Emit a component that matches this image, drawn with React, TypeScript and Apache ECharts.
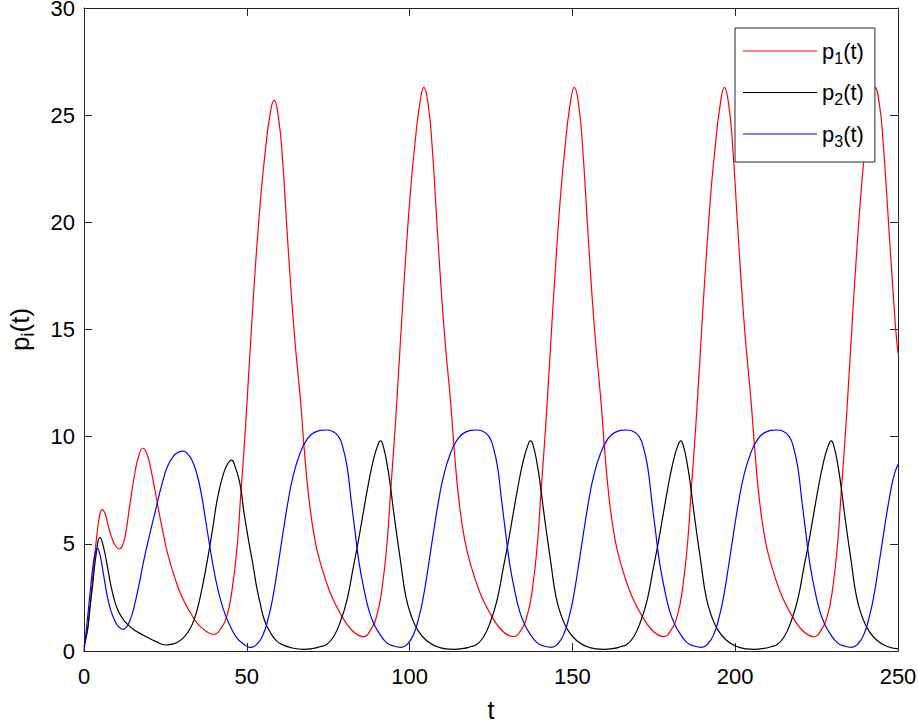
import React, { useEffect, useRef } from "react";
import * as echarts from "echarts";

const FONT = "'Liberation Sans', Arial, Helvetica, sans-serif";

const xTicks = { min: 0, max: 250, interval: 50 };
const yTicks = { min: 0, max: 30, interval: 5 };

const seriesNames = ["p1(t)", "p2(t)", "p3(t)"];
const legendLabels: Record<string, string> = {
  "p1(t)": "{a|p}{s|1}{a|(t)}",
  "p2(t)": "{a|p}{s|2}{a|(t)}",
  "p3(t)": "{a|p}{s|3}{a|(t)}",
};

// p1(t) — red
const p1: [number, number][] = [
  [0, 0.7], [0.8, 0.8], [1.5, 1.5], [2.1, 2.4], [3.0, 4.0], [4.1, 5.6], [4.9, 6.4], [5.6, 6.6], [6.5, 6.4], [7.5, 5.8], [8.5, 5.3], [9.7, 4.9], [10.9, 4.76], [12.0, 5.0], [12.8, 5.5], [13.6, 6.3], [14.3, 7.05], [15.5, 8.2], [16.8, 9.1], [18.1, 9.46], [19.3, 9.2], [20.5, 8.5], [21.8, 7.5], [23.0, 6.5], [24.3, 5.5], [25.6, 4.6], [27.6, 3.55], [30.0, 2.55], [32.8, 1.76], [35.0, 1.25], [37.5, 0.92], [39.9, 0.78], [42.0, 1.05],
  [44.0, 1.7], [45.6, 3.0], [47.1, 5.0], [48.1, 7.2], [49.1, 9.3], [50.1, 11.7], [51.4, 15.0], [52.9, 18.5], [54.4, 21.4], [55.6, 23.2], [57.0, 24.9], [58.4, 25.7], [59.7, 24.9], [60.9, 23.1], [62.7, 18.8], [64.6, 14.8], [66.6, 11.5], [67.7, 9.3], [69.1, 7.1], [70.9, 5.2], [73.0, 3.9], [75.4, 2.8], [77.6, 2.07], [79.9, 1.45], [82.2, 0.98], [84.2, 0.74], [85.8, 0.67],
  [87.9, 0.95], [90.0, 1.7], [91.6, 3.0], [93.1, 5.1], [94.1, 7.3], [95.1, 9.4], [96.1, 11.7], [97.4, 15.0], [98.9, 18.6], [100.4, 21.7], [101.6, 23.6], [103.0, 25.4], [104.4, 26.3], [105.7, 25.5], [106.9, 23.6], [108.7, 19.2], [110.6, 15.0], [112.6, 11.6], [113.7, 9.4], [115.1, 7.1], [116.9, 5.2], [119.0, 3.9], [121.4, 2.8], [123.6, 2.07], [125.9, 1.45], [128.2, 0.98], [130.2, 0.74], [131.8, 0.67],
  [134.1, 0.95], [136.2, 1.7], [137.8, 3.0], [139.3, 5.1], [140.3, 7.3], [141.3, 9.4], [142.3, 11.7], [143.6, 15.0], [145.1, 18.6], [146.6, 21.7], [147.8, 23.6], [149.2, 25.4], [150.6, 26.3], [151.9, 25.5], [153.1, 23.6], [154.9, 19.2], [156.8, 15.0], [158.8, 11.6], [159.9, 9.4], [161.3, 7.1], [163.1, 5.2], [165.2, 3.9], [167.6, 2.8], [169.8, 2.07], [172.1, 1.45], [174.4, 0.98], [176.4, 0.74], [178.0, 0.67],
  [180.2, 0.95], [182.3, 1.7], [183.9, 3.0], [185.4, 5.1], [186.4, 7.3], [187.4, 9.4], [188.4, 11.7], [189.7, 15.0], [191.2, 18.6], [192.7, 21.7], [193.9, 23.6], [195.3, 25.4], [196.7, 26.3], [198.0, 25.5], [199.2, 23.6], [201.0, 19.2], [202.9, 15.0], [204.9, 11.6], [206.0, 9.4], [207.4, 7.1], [209.2, 5.2], [211.3, 3.9], [213.7, 2.8], [215.9, 2.07], [218.2, 1.45], [220.5, 0.98], [222.5, 0.74], [224.1, 0.67],
  [226.3, 0.95], [228.4, 1.7], [230.0, 3.0], [231.5, 5.1], [232.5, 7.3], [233.5, 9.4], [234.5, 11.7], [235.8, 15.0], [237.3, 18.6], [238.8, 21.7], [240.0, 23.6], [241.4, 25.4], [242.9, 26.3], [244.3, 25.5], [245.5, 23.6], [247.3, 19.5], [249.2, 15.2], [250, 13.9],
];

// p2(t) — black
const p2: [number, number][] = [
  [0, 0.2], [1.0, 0.9], [1.8, 2.0], [2.6, 3.0], [3.8, 4.6], [4.9, 5.3], [5.9, 4.9], [7.2, 3.93], [8.2, 3.1], [9.2, 2.45], [10.3, 1.95], [11.5, 1.6], [13.0, 1.3], [15.4, 0.98], [17.5, 0.8], [19.4, 0.64], [22.0, 0.45], [25.1, 0.28], [27.5, 0.33], [29.7, 0.51], [31.8, 0.85], [33.8, 1.45], [35.8, 2.6], [37.9, 4.25], [39.5, 5.7], [40.9, 7.05], [42.5, 8.1], [44.0, 8.7], [45.35, 8.91], [46.4, 8.6], [47.9, 7.8], [49.1, 6.5], [50.5, 5.2], [52.0, 3.93], [53.0, 3.0], [54.0, 2.3], [55.5, 1.4], [57.5, 0.8], [59.3, 0.45], [61.2, 0.28], [64.0, 0.14], [67.4, 0.08], [70.5, 0.12], [72.5, 0.2], [74.5, 0.3],
  [76.6, 0.65], [78.8, 1.4], [80.8, 2.4], [82.7, 3.9], [84.1, 5.0], [85.6, 6.3], [87.1, 7.6], [88.7, 8.8], [90.0, 9.5], [91.1, 9.8], [92.0, 9.5], [93.1, 8.7], [94.0, 7.8], [95.1, 6.5], [95.9, 5.6], [97.3, 4.1], [98.9, 2.5], [100.6, 1.6], [102.6, 0.95], [105.1, 0.5], [108.1, 0.22], [111.1, 0.1], [113.6, 0.08], [116.6, 0.12],
  [118.7, 0.2], [120.6, 0.3], [122.7, 0.65], [124.9, 1.4], [126.9, 2.4], [128.8, 3.9], [130.2, 5.0], [131.7, 6.3], [133.2, 7.6], [134.8, 8.8], [136.1, 9.5], [137.2, 9.8], [138.1, 9.5], [139.2, 8.7], [140.1, 7.8], [141.2, 6.5], [142.0, 5.6], [143.4, 4.1], [145.0, 2.5], [146.7, 1.6], [148.7, 0.95], [151.2, 0.5], [154.2, 0.22], [157.2, 0.1], [159.7, 0.08], [162.7, 0.12],
  [164.8, 0.2], [166.7, 0.3], [168.8, 0.65], [171.0, 1.4], [173.0, 2.4], [174.9, 3.9], [176.3, 5.0], [177.8, 6.3], [179.3, 7.6], [180.9, 8.8], [182.2, 9.5], [183.3, 9.8], [184.2, 9.5], [185.3, 8.7], [186.2, 7.8], [187.3, 6.5], [188.1, 5.6], [189.5, 4.1], [191.1, 2.5], [192.8, 1.6], [194.8, 0.95], [197.3, 0.5], [200.3, 0.22], [203.3, 0.1], [205.8, 0.08], [208.8, 0.12],
  [211.0, 0.2], [212.9, 0.3], [215.0, 0.65], [217.2, 1.4], [219.2, 2.4], [221.1, 3.9], [222.5, 5.0], [224.0, 6.3], [225.5, 7.6], [227.1, 8.8], [228.4, 9.5], [229.5, 9.8], [230.4, 9.5], [231.5, 8.7], [232.4, 7.8], [233.5, 6.5], [234.3, 5.6], [235.7, 4.1], [237.3, 2.5], [239.0, 1.6], [241.0, 0.95], [243.5, 0.5], [246.5, 0.22], [250, 0.1],
];

// p3(t) — blue
const p3: [number, number][] = [
  [0, 0], [0.8, 1.13], [1.4, 2.0], [2.05, 3.0], [2.8, 4.0], [3.4, 4.55], [4.1, 4.79], [4.9, 4.5], [6.1, 3.47], [7.1, 2.6], [8.2, 1.91], [9.5, 1.4], [10.8, 1.1], [12.0, 1.01], [13.2, 1.15], [14.3, 1.5], [15.4, 2.07], [16.9, 3.1], [18.4, 4.25], [20.2, 5.45], [22.0, 6.58], [23.8, 7.7], [25.6, 8.6], [27.5, 9.1], [29.0, 9.28], [30.4, 9.33], [31.5, 9.25], [33.0, 8.95], [34.5, 8.35], [36.0, 7.35], [37.5, 5.95], [39.0, 4.55], [40.5, 3.3], [42.0, 2.35], [43.5, 1.65], [45.0, 1.13], [47.0, 0.6], [49.1, 0.32], [51.0, 0.17],
  [53.3, 0.35], [55.1, 0.8], [56.7, 1.6], [58.0, 2.5], [59.6, 4.0], [61.1, 5.5], [62.7, 7.0], [64.2, 8.15], [66.3, 9.2], [68.4, 9.85], [70.8, 10.2], [74.3, 10.31], [76.3, 10.25], [78.2, 10.0], [79.5, 9.5], [80.8, 8.6], [82.0, 7.1], [83.3, 5.5], [84.5, 4.1], [86.1, 2.8], [87.6, 1.85], [89.1, 1.25], [90.8, 0.8], [93.0, 0.38], [95.3, 0.22], [97.4, 0.17],
  [99.5, 0.35], [101.3, 0.8], [102.9, 1.6], [104.2, 2.5], [105.8, 4.0], [107.3, 5.5], [108.9, 7.0], [110.4, 8.15], [112.5, 9.2], [114.6, 9.85], [117.0, 10.2], [120.5, 10.31], [122.5, 10.25], [124.4, 10.0], [125.7, 9.5], [127.0, 8.6], [128.2, 7.1], [129.5, 5.5], [130.7, 4.1], [132.3, 2.8], [133.8, 1.85], [135.3, 1.25], [137.0, 0.8], [139.2, 0.38], [141.5, 0.22], [143.6, 0.17],
  [145.6, 0.35], [147.4, 0.8], [149.0, 1.6], [150.3, 2.5], [151.9, 4.0], [153.4, 5.5], [155.0, 7.0], [156.5, 8.15], [158.6, 9.2], [160.7, 9.85], [163.1, 10.2], [166.6, 10.31], [168.6, 10.25], [170.5, 10.0], [171.8, 9.5], [173.1, 8.6], [174.3, 7.1], [175.6, 5.5], [176.8, 4.1], [178.4, 2.8], [179.9, 1.85], [181.4, 1.25], [183.1, 0.8], [185.3, 0.38], [187.6, 0.22], [189.7, 0.17],
  [191.7, 0.35], [193.5, 0.8], [195.1, 1.6], [196.4, 2.5], [198.0, 4.0], [199.5, 5.5], [201.1, 7.0], [202.6, 8.15], [204.7, 9.2], [206.8, 9.85], [209.2, 10.2], [212.7, 10.31], [214.7, 10.25], [216.6, 10.0], [217.9, 9.5], [219.2, 8.6], [220.4, 7.1], [221.7, 5.5], [222.9, 4.1], [224.5, 2.8], [226.0, 1.85], [227.5, 1.25], [229.2, 0.8], [231.4, 0.38], [233.7, 0.22], [235.8, 0.17],
  [237.8, 0.35], [239.6, 0.8], [241.2, 1.6], [242.5, 2.5], [244.1, 4.0], [245.6, 5.5], [247.2, 7.0], [248.7, 8.15], [250, 8.7],
];

const seriesData = [p1, p2, p3];
const seriesColors = ["#ff0000", "#000000", "#0000ff"];

const AXIS_COLOR = "#262626";

const legendRich = {
  a: { fontSize: 22, lineHeight: 30, fontFamily: FONT, color: "#000", verticalAlign: "middle" },
  s: { fontSize: 16, lineHeight: 16, fontFamily: FONT, color: "#000", verticalAlign: "bottom" },
};
const nameRich = {
  a: { fontSize: 26, lineHeight: 34, fontFamily: FONT, color: "#000", verticalAlign: "middle" },
  s: { fontSize: 19, lineHeight: 19, fontFamily: FONT, color: "#000", verticalAlign: "bottom" },
};

export default function App() {
  const ref = useRef<HTMLDivElement>(null);
  useEffect(() => {
    document.body.style.margin = "0";
    const chart = echarts.init(ref.current!, null, { renderer: "svg" });
    const axisLine = { show: true, onZero: false, lineStyle: { color: AXIS_COLOR, width: 1 } };
    const axisTick = { show: true, inside: true, length: 8, lineStyle: { color: AXIS_COLOR, width: 1 } };
    const label = { fontSize: 22, lineHeight: 16, color: "#000", fontFamily: FONT };
    chart.setOption({
      animation: false,
      backgroundColor: "#fff",
      grid: { left: 84, right: 20, top: 8, bottom: 73, containLabel: false, outerBoundsMode: "none" },
      xAxis: [
        {
          type: "value", ...xTicks, position: "bottom",
          axisLine, axisTick, splitLine: { show: false },
          axisLabel: { ...label, margin: 17 },
          name: "t", nameLocation: "middle", nameGap: 49,
          nameTextStyle: { fontSize: 25, lineHeight: 20, color: "#000", fontFamily: FONT },
        },
        {
          type: "value", ...xTicks, position: "top",
          axisLine, axisTick, splitLine: { show: false }, axisLabel: { show: false },
        },
      ],
      yAxis: [
        {
          type: "value", ...yTicks, position: "left",
          axisLine, axisTick, splitLine: { show: false },
          axisLabel: { ...label, margin: 9 },
          name: "{a|p}{s|i}{a|(t)}", nameLocation: "middle", nameGap: 47, nameRotate: 90,
          nameTextStyle: { fontSize: 26, color: "#000", fontFamily: FONT, rich: nameRich },
        },
        {
          type: "value", ...yTicks, position: "right",
          axisLine, axisTick, splitLine: { show: false }, axisLabel: { show: false },
        },
      ],
      legend: {
        orient: "vertical",
        left: 735,
        top: 28,
        padding: [12, 11, 13, 8],
        icon: "rect",
        itemWidth: 74,
        itemHeight: 1.2,
        itemGap: 15.5,
        borderColor: AXIS_COLOR,
        borderWidth: 1,
        backgroundColor: "#fff",
        selectedMode: false,
        data: seriesNames,
        formatter: (name: string) => legendLabels[name],
        textStyle: { fontSize: 22, color: "#000", fontFamily: FONT, rich: legendRich },
      },
      series: seriesNames.map((name, i) => ({
        name,
        type: "line",
        data: seriesData[i],
        xAxisIndex: 0,
        yAxisIndex: 0,
        showSymbol: false,
        symbol: "none",
        smooth: 0.5,
        clip: true,
        lineStyle: { color: seriesColors[i], width: 1.2 },
        itemStyle: { color: seriesColors[i] },
      })),
    });
    return () => chart.dispose();
  }, []);
  return <div ref={ref} style={{ width: 918, height: 724 }} />;
}
